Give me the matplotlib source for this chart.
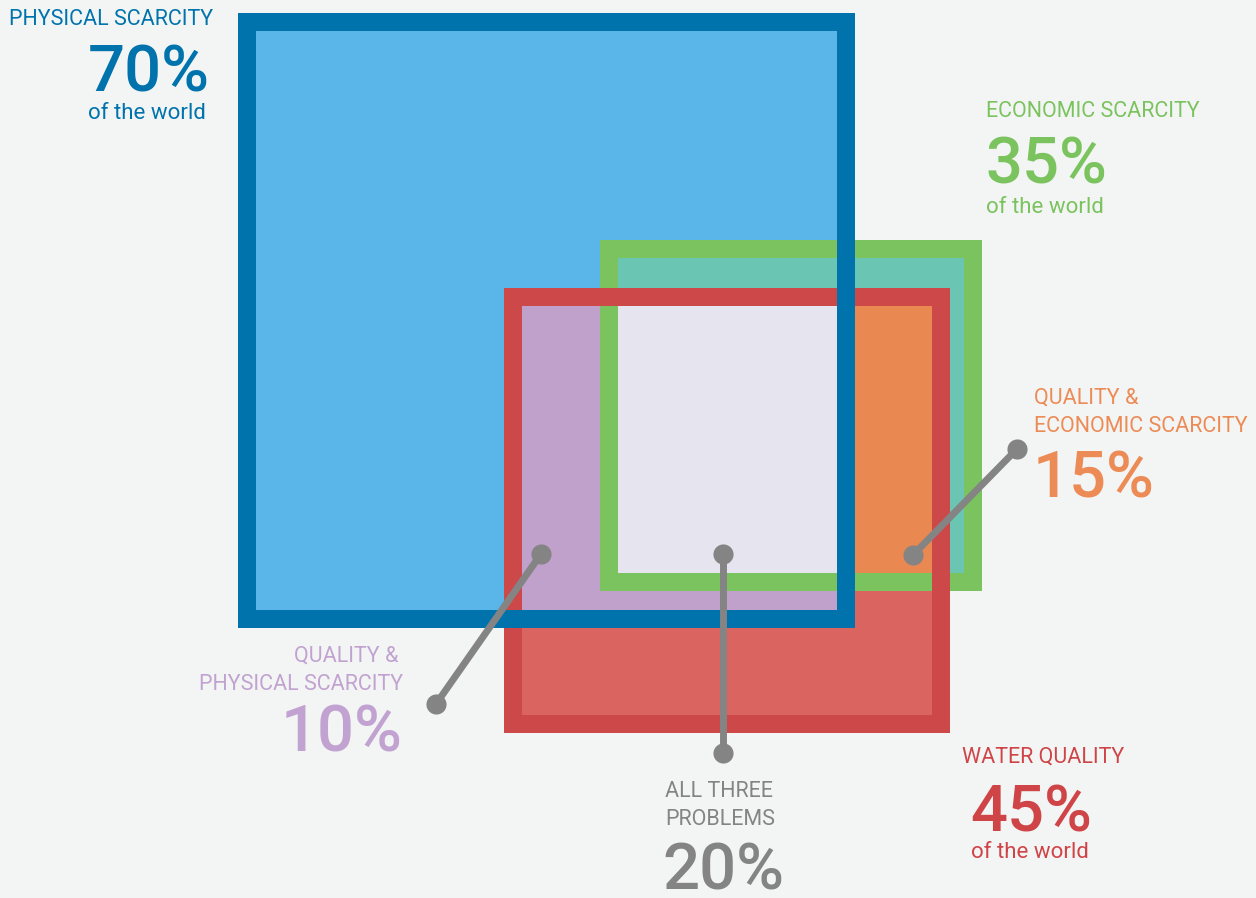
import matplotlib.pyplot as plt
from matplotlib.patches import Rectangle

# share of the world affected by each water problem
group_names = ["PHYSICAL SCARCITY", "ECONOMIC SCARCITY", "WATER QUALITY"]
group_pct = [70, 35, 45]

# overlaps between the problems
overlap_names = [["QUALITY &", "PHYSICAL SCARCITY"],
                 ["ALL THREE", "PROBLEMS"],
                 ["QUALITY &", "ECONOMIC SCARCITY"]]
overlap_pct = [10, 20, 15]

BG = "#f3f5f4"
GRAY = "#848484"
FONT = "Roboto"

# square boxes in pixel units (x0, y0, x1, y1), border width
boxes = {
    "blue": ((238, 13, 855, 628), 18),
    "green": ((600, 240, 982, 591), 18),
    "red": ((504, 288, 950, 733), 18),
}
border_col = {"blue": "#0073ad", "green": "#7bc35e", "red": "#cc4849"}
fill_col = {"blue": "#5ab6e9", "green": "#6ac6b2", "red": "#da645f"}


def inner(name):
    (x0, y0, x1, y1), bw = boxes[name]
    return (x0 + bw, y0 + bw, x1 - bw, y1 - bw)


def inter(*bs):
    return (max(b[0] for b in bs), max(b[1] for b in bs),
            min(b[2] for b in bs), min(b[3] for b in bs))


def fill(ax, b, color):
    ax.add_patch(Rectangle((b[0], b[1]), b[2] - b[0], b[3] - b[1],
                           facecolor=color, edgecolor="none"))


def frame(ax, name):
    (x0, y0, x1, y1), bw = boxes[name]
    ax.add_patch(Rectangle((x0 + bw / 2, y0 + bw / 2), x1 - x0 - bw, y1 - y0 - bw,
                           fill=False, edgecolor=border_col[name],
                           linewidth=bw * 72 / 100, joinstyle="miter"))


def txt(ax, x, y, s, color, size, ha="left", weight="normal"):
    ax.text(x, y, s, color=color, fontsize=size, ha=ha, va="baseline",
            family=[FONT, "DejaVu Sans"], fontweight=weight)


fig = plt.figure(figsize=(12.56, 8.98), dpi=100, facecolor=BG)
ax = fig.add_axes([0, 0, 1, 1])
ax.set_facecolor(BG)
ax.set_xlim(0, 1256)
ax.set_ylim(898, 0)
ax.axis("off")

# fills, then the overlap regions
fill(ax, inner("blue"), fill_col["blue"])
fill(ax, inner("green"), fill_col["green"])
fill(ax, inner("red"), fill_col["red"])
fill(ax, inter(inner("red"), inner("blue")), "#bfa1cc")
fill(ax, inter(inner("red"), inner("green")), "#e98851")
fill(ax, inter(inner("red"), inner("green"), inner("blue")), "#e6e4ef")

# borders
frame(ax, "green")
frame(ax, "red")
frame(ax, "blue")

# connectors
links = [((541, 554), (436, 704)), ((723, 554), (723, 753)), ((913, 555), (1017, 449))]
for (xa, ya), (xb, yb) in links:
    ax.plot([xa, xb], [ya, yb], color=GRAY, lw=5, solid_capstyle="butt")
    ax.plot([xa, xb], [ya, yb], "o", color=GRAY, ms=14.5, mec="none")

PCT = 47
LBL = 15.5
SUB = 16

blue_t, green_t, red_t = "#0073ad", "#7bc35e", "#cf4447"
purple_t, orange_t = "#c1a2d0", "#ec8b55"

# physical scarcity
txt(ax, 213, 25, group_names[0], blue_t, LBL, ha="right")
txt(ax, 210, 92, f"{group_pct[0]}%", blue_t, PCT, ha="right", weight="medium")
txt(ax, 206, 119, "of the world", blue_t, SUB, ha="right")

# economic scarcity
txt(ax, 986, 117, group_names[1], green_t, LBL)
txt(ax, 985, 183, f"{group_pct[1]}%", green_t, PCT, weight="medium")
txt(ax, 986, 213, "of the world", green_t, SUB)

# water quality
txt(ax, 1043, 763, group_names[2], red_t, LBL, ha="center")
txt(ax, 1031, 832, f"{group_pct[2]}%", red_t, PCT, ha="center", weight="medium")
txt(ax, 1030, 858, "of the world", red_t, SUB, ha="center")

# quality & physical
txt(ax, 398, 662, overlap_names[0][0], purple_t, LBL, ha="right")
txt(ax, 403, 690, overlap_names[0][1], purple_t, LBL, ha="right")
txt(ax, 402, 752, f"{overlap_pct[0]}%", purple_t, PCT, ha="right", weight="medium")

# all three
txt(ax, 665, 797, overlap_names[1][0], GRAY, LBL)
txt(ax, 665, 825, overlap_names[1][1], GRAY, LBL)
txt(ax, 662, 889, f"{overlap_pct[1]}%", GRAY, PCT, weight="medium")

# quality & economic
txt(ax, 1034, 404, overlap_names[2][0], orange_t, LBL)
txt(ax, 1034, 432, overlap_names[2][1], orange_t, LBL)
txt(ax, 1033, 498, f"{overlap_pct[2]}%", orange_t, PCT, weight="medium")

fig.savefig("out.png", dpi=100, facecolor=BG)
